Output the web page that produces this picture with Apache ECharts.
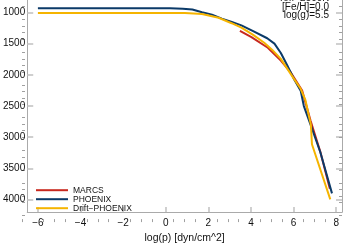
<!DOCTYPE html>
<html>
<head>
<meta charset="utf-8">
<script src="https://cdn.jsdelivr.net/npm/echarts@6/dist/echarts.min.js"></script>
<style>html,body{margin:0;padding:0;background:#fff}#c{width:343px;height:249px}</style>
</head>
<body>
<div id="c"></div>
<script>
// ---- data ----
var marcsLogP   = [3.48, 4.02, 4.79, 5.4, 5.86, 6.4, 6.8, 7.25, 7.7];
var marcsT      = [1295, 1394, 1565, 1770, 1958, 2253, 2740, 3230, 3826];
var phoenixLogP = [-6, -2, 0.2, 0.8, 1.25, 1.7, 2.17, 2.63, 3.1, 3.55, 4.1, 4.76, 5.1, 5.4, 5.71, 6.0, 6.33, 6.48, 6.79, 7.25, 7.8];
var phoenixT    = [931, 931, 934, 940, 951, 995, 1034, 1099, 1150, 1206, 1300, 1413, 1500, 1650, 1855, 2057, 2253, 2500, 2794, 3236, 3900];
var driftLogP   = [-6, 0.9, 1.7, 2.48, 3.09, 3.55, 4.1, 4.62, 5.0, 5.4, 6.0, 6.33, 6.55, 6.71, 6.81, 6.86, 7.72];
var driftT      = [1010, 1010, 1025, 1084, 1172, 1243, 1360, 1486, 1600, 1744, 2057, 2223, 2400, 2646, 2798, 3112, 3997];
var xMajorTicks = [-6, -4, -2, 0, 2, 4, 6, 8];
var xMinorTicks = [-6.5, -5.5, -5, -4.5, -3.5, -3, -2.5, -1.5, -1, -0.5, 0.5, 1, 1.5, 2.5, 3, 3.5, 4.5, 5, 5.5, 6.5, 7, 7.5];
var yMajorTicks = [1000, 1500, 2000, 2500, 3000, 3500, 4000];
var yMinorTicks = [900, 1100, 1200, 1300, 1400, 1600, 1700, 1800, 1900, 2100, 2200, 2300, 2400, 2600, 2700, 2800, 2900, 3100, 3200, 3300, 3400, 3600, 3700, 3800, 3900, 4100];
var seriesNames = ['MARCS', 'PHOENIX', 'Drift-PHOENIX'];
var seriesColors = ['#c8281e', '#0b3a68', '#f5b400'];
var annotation = ['Teff=2500K', '[Fe/H]=0.0', 'log(g)=5.5'];
var xName = 'log(p) [dyn/cm^2]';

function pairs(xs, ys) { return xs.map(function (x, i) { return [x, ys[i]]; }); }

var FONT = 'Liberation Sans, Arial, sans-serif';
var axisGray = '#aaaaaa';
var majorTickStyle = { color: '#c4c4c4', width: 1.6 };
var minorTickStyle = { color: '#a0a0a0', width: 1 };
var gridRect = { left: 22, top: -8.6, width: 320, height: 230.7 };
var xMin = -6.5, xMax = 8.27, yMin = 800, yMax = 4200;

function axisBase(extra) {
  return Object.assign({ type: 'value', splitLine: { show: false } }, extra);
}

var chart = echarts.init(document.getElementById('c'), null, { renderer: 'canvas' });
chart.setOption({
  animation: false,
  backgroundColor: '#ffffff',
  grid: [
    Object.assign({ containLabel: false }, gridRect),
    Object.assign({ containLabel: false }, gridRect)
  ],
  xAxis: [
    axisBase({
      gridIndex: 0, position: 'bottom', min: xMin, max: xMax,
      axisLine: { show: true, onZero: false, lineStyle: { color: axisGray, width: 1 } },
      axisTick: { show: true, inside: true, length: 5, customValues: xMajorTicks, lineStyle: majorTickStyle },
      axisLabel: { show: true, customValues: xMajorTicks, margin: 6, color: '#111', fontFamily: FONT, fontSize: 10,
        formatter: function (v) { return String(v).replace('-', '\u2212'); } },
      name: xName, nameLocation: 'middle', nameGap: 20,
      nameTextStyle: { color: '#111', fontFamily: FONT, fontSize: 10.5 }
    }),
    axisBase({
      gridIndex: 1, position: 'bottom', min: xMin, max: xMax,
      axisLine: { show: false, onZero: false },
      axisTick: { show: true, inside: true, length: 3, customValues: xMinorTicks, lineStyle: minorTickStyle },
      axisLabel: { show: false }
    })
  ],
  yAxis: [
    axisBase({
      gridIndex: 0, position: 'left', inverse: true, min: yMin, max: yMax,
      axisLine: { show: true, onZero: false, lineStyle: { color: axisGray, width: 1 } },
      axisTick: { show: true, inside: true, length: 6, customValues: yMajorTicks, lineStyle: majorTickStyle },
      axisLabel: { show: true, customValues: yMajorTicks, margin: 2, color: '#111', fontFamily: FONT, fontSize: 10,
        formatter: function (v) { return String(v); } }
    }),
    axisBase({
      gridIndex: 0, position: 'right', inverse: true, min: yMin, max: yMax,
      axisLine: { show: true, onZero: false, lineStyle: { color: axisGray, width: 1 } },
      axisTick: { show: true, inside: true, length: 6, customValues: yMajorTicks, lineStyle: majorTickStyle },
      axisLabel: { show: false }
    }),
    axisBase({
      gridIndex: 1, position: 'left', inverse: true, min: yMin, max: yMax,
      axisLine: { show: false, onZero: false },
      axisTick: { show: true, inside: true, length: 3, customValues: yMinorTicks, lineStyle: minorTickStyle },
      axisLabel: { show: false }
    }),
    axisBase({
      gridIndex: 1, position: 'right', inverse: true, min: yMin, max: yMax,
      axisLine: { show: false, onZero: false },
      axisTick: { show: true, inside: true, length: 3, customValues: yMinorTicks, lineStyle: minorTickStyle },
      axisLabel: { show: false }
    })
  ],
  legend: {
    orient: 'vertical', left: 36, top: 185.7, padding: 0, itemGap: 0,
    itemWidth: 32, itemHeight: 2, icon: 'rect',
    data: seriesNames,
    formatter: function (n) { return n.replace('-', '\u2212'); },
    textStyle: { color: '#111', fontFamily: FONT, fontSize: 8.5, lineHeight: 8.6 }
  },
  graphic: [{
    type: 'text', x: 329, y: -5.5,
    style: { text: annotation.join('\n'), align: 'right', verticalAlign: 'top', textAlign: 'right',
      font: '10px ' + FONT, lineHeight: 8.3, fill: '#111' }
  }],
  series: [
    { name: seriesNames[0], type: 'line', xAxisIndex: 0, yAxisIndex: 0, data: pairs(marcsLogP, marcsT),
      showSymbol: false, symbol: 'none', lineStyle: { color: seriesColors[0], width: 2 }, itemStyle: { color: seriesColors[0] } },
    { name: seriesNames[1], type: 'line', xAxisIndex: 0, yAxisIndex: 0, data: pairs(phoenixLogP, phoenixT),
      showSymbol: false, symbol: 'none', lineStyle: { color: seriesColors[1], width: 2 }, itemStyle: { color: seriesColors[1] } },
    { name: seriesNames[2], type: 'line', xAxisIndex: 0, yAxisIndex: 0, data: pairs(driftLogP, driftT),
      showSymbol: false, symbol: 'none', lineStyle: { color: seriesColors[2], width: 2 }, itemStyle: { color: seriesColors[2] } }
  ]
});
</script>
</body>
</html>
